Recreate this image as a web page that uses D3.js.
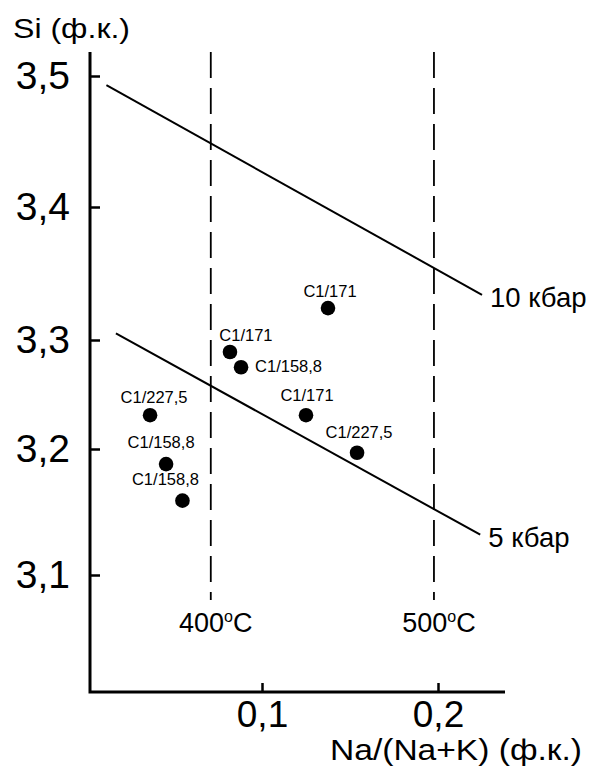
<!DOCTYPE html>
<html>
<head>
<meta charset="utf-8">
<script src="https://cdn.jsdelivr.net/npm/d3@7"></script>
<style>
  html, body { margin: 0; padding: 0; background: #fff; }
  svg { display: block; font-family: "Liberation Sans", Arial, sans-serif; }
</style>
</head>
<body>
<svg id="chart" width="590" height="768"></svg>
<script>
// ---------- data ----------
const sampleNames = ["C1/171", "C1/171", "C1/158,8", "C1/227,5", "C1/171", "C1/227,5", "C1/158,8", "C1/158,8"];
const naRatio    = [0.1375, 0.0818, 0.0881, 0.0364, 0.1250, 0.1540, 0.0455, 0.0548];
const siValues   = [3.324, 3.289, 3.275, 3.231, 3.231, 3.197, 3.188, 3.159];

const yTicks = [3.1, 3.2, 3.3, 3.4, 3.5];
const xTicks = [0.1, 0.2];

const isobarNames  = ["10 кбар", "5 кбар"];
const isobarXStart = [0.0116, 0.0170];
const isobarYStart = [3.493, 3.305];
const isobarXEnd   = [0.2250, 0.2240];
const isobarYEnd   = [3.334, 3.132];

const isothermTemps = [400, 500];
const isothermX     = [0.0709, 0.1977];

const yTitle = "Si (ф.к.)";
const xTitle = "Na/(Na+K) (ф.к.)";

// label placement (layout, not data): [dx, dy, anchor]
const labelPlace = [
  [2, -11, "middle"], [16, -11, "middle"], [14, 5, "start"], [4, -12, "middle"],
  [1, -14, "middle"], [2, -15, "middle"], [-5, -16, "middle"], [-17, -16, "middle"]
];

// ---------- layout ----------
const plotLeft = 90, plotRight = 505, plotTop = 52, plotBottom = 692;

const x = d3.scaleLinear().domain([0, 0.2]).range([86, 438]);
// reference axis is hand-drawn with slightly uneven tick spacing
const y = d3.scaleLinear().domain([3.1, 3.2, 3.3, 3.4, 3.5]).range([575, 449, 340, 207, 76]);

const loc = d3.formatLocale({decimal: ",", thousands: " ", grouping: [3], currency: ["", ""]});
const fmt = loc.format(".1f");

const svg = d3.select("#chart");

// isotherms (dashed)
const iso = svg.append("g");
isothermTemps.forEach((t, i) => {
  const xx = x(isothermX[i]);
  iso.append("line")
    .attr("x1", xx).attr("x2", xx)
    .attr("y1", plotTop).attr("y2", 600)
    .attr("stroke", "#000").attr("stroke-width", 1.8)
    .attr("stroke-dasharray", "26,10");
  const tx = iso.append("text")
    .attr("x", xx + 5).attr("y", 632)
    .attr("text-anchor", "middle")
    .attr("font-size", 27)
    .attr("fill", "#000");
  tx.append("tspan").text(String(t));
  tx.append("tspan").attr("font-size", 16).attr("dy", -10).text("o");
  tx.append("tspan").attr("dy", 10).text("C");
});

// isobars
isobarNames.forEach((n, i) => {
  const x1 = x(isobarXStart[i]), y1 = y(isobarYStart[i]);
  const x2 = x(isobarXEnd[i]), y2 = y(isobarYEnd[i]);
  svg.append("line")
    .attr("x1", x1).attr("y1", y1).attr("x2", x2).attr("y2", y2)
    .attr("stroke", "#000").attr("stroke-width", 2);
  svg.append("text")
    .attr("x", x2 + 8).attr("y", y2 + 12)
    .attr("font-size", 27.5)
    .attr("fill", "#000")
    .text(n);
});

// axes
const yAxis = d3.axisLeft(y).tickValues(yTicks).tickSize(-10).tickSizeOuter(0).tickPadding(20).tickFormat(fmt);
const gy = svg.append("g").attr("transform", `translate(${plotLeft},0)`).call(yAxis);
gy.select(".domain").remove();
gy.selectAll(".tick line").attr("stroke", "#000").attr("stroke-width", 2.5);
gy.selectAll(".tick text").attr("font-size", 39).attr("font-family", "Liberation Sans, Arial, sans-serif").attr("fill", "#000");

const xAxis = d3.axisBottom(x).tickValues(xTicks).tickSize(-9).tickSizeOuter(0).tickPadding(9).tickFormat(fmt);
const gx = svg.append("g").attr("transform", `translate(0,${plotBottom})`).call(xAxis);
gx.select(".domain").remove();
gx.selectAll(".tick line").attr("stroke", "#000").attr("stroke-width", 2.5);
gx.selectAll(".tick text").attr("font-size", 37).attr("font-family", "Liberation Sans, Arial, sans-serif").attr("fill", "#000");

svg.append("path")
  .attr("d", `M${plotLeft},${plotTop}V${plotBottom}H${plotRight}`)
  .attr("fill", "none").attr("stroke", "#000").attr("stroke-width", 3)
  .attr("stroke-linejoin", "miter");

// axis titles
svg.append("text").attr("x", 13).attr("y", 38).attr("font-size", 28.5)
  .attr("textLength", 117).attr("lengthAdjust", "spacingAndGlyphs")
  .attr("fill", "#000").text(yTitle);
svg.append("text").attr("x", 330).attr("y", 760).attr("font-size", 30)
  .attr("textLength", 252).attr("lengthAdjust", "spacingAndGlyphs")
  .attr("fill", "#000").text(xTitle);

// points
const pts = svg.append("g");
sampleNames.forEach((name, i) => {
  const px = x(naRatio[i]), py = y(siValues[i]);
  pts.append("circle").attr("cx", px).attr("cy", py).attr("r", 7.3).attr("fill", "#000");
  const p = labelPlace[i];
  pts.append("text")
    .attr("x", px + p[0]).attr("y", py + p[1])
    .attr("text-anchor", p[2])
    .attr("font-size", 16.5)
    .attr("fill", "#000")
    .text(name);
});
</script>
</body>
</html>
